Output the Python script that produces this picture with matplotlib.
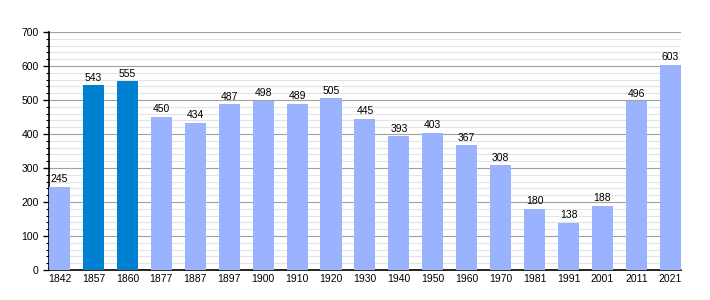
import matplotlib
matplotlib.use("Agg")
import matplotlib.pyplot as plt
from matplotlib.ticker import MultipleLocator

years = ["1842", "1857", "1860", "1877", "1887", "1897", "1900", "1910", "1920",
         "1930", "1940", "1950", "1960", "1970", "1981", "1991", "2001", "2011", "2021"]
population = [245, 543, 555, 450, 434, 487, 498, 489, 505,
              445, 393, 403, 367, 308, 180, 138, 188, 496, 603]
highlighted = ["1857", "1860"]

plt.rcParams["font.family"] = ["Liberation Sans", "DejaVu Sans"]

fig = plt.figure(figsize=(7.1, 3.0), dpi=100)
ax = fig.add_axes([0.069, 0.1, 0.89, 0.793])

colors = ["#0080d0" if y in highlighted else "#99b3ff" for y in years]
x = range(len(years))
bars = ax.bar(x, population, width=0.62, color=colors, zorder=3)

for bar, v in zip(bars, population):
    ax.text(bar.get_x() + bar.get_width() / 2, v + 8, str(v),
            ha="center", va="bottom", fontsize=7.5, color="black", zorder=4)

ax.set_xlim(-0.31, len(years) - 0.69)
ax.set_ylim(0, 700)
ax.set_xticks(list(x))
ax.set_xticklabels(years, fontsize=7.5)
ax.yaxis.set_major_locator(MultipleLocator(100))
ax.yaxis.set_minor_locator(MultipleLocator(20))
ax.tick_params(axis="y", labelsize=7.5, length=4, width=1, direction="out")
ax.tick_params(axis="y", which="minor", length=2.5, width=0.8)
ax.tick_params(axis="x", length=0, pad=3)

ax.grid(axis="y", which="major", color="#a0a0a0", linewidth=0.8, zorder=1)
ax.grid(axis="y", which="minor", color="#e4e4e4", linewidth=0.8, zorder=0)

ax.spines["top"].set_visible(False)
ax.spines["right"].set_visible(False)
ax.spines["left"].set_linewidth(1.2)
ax.spines["bottom"].set_linewidth(1.2)

fig.savefig("out.png", dpi=100)
